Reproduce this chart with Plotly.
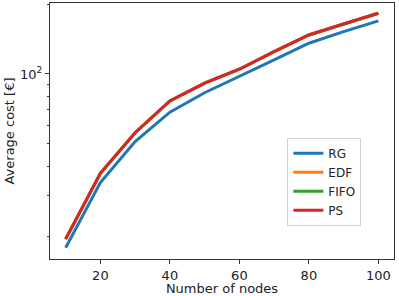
import plotly.graph_objects as go

nodes = [10, 20, 30, 40, 50, 60, 70, 80, 90, 100]
rg = [17.8, 34.0, 51.1, 68.4, 83.0, 97.3, 114.9, 135.7, 152.2, 169.3]
edf = [19.4, 37.3, 55.8, 76.5, 91.2, 104.8, 124.8, 147.2, 164.3, 182.8]
fifo = [19.4, 37.3, 55.8, 76.5, 91.2, 104.8, 124.8, 147.2, 164.3, 182.8]
ps = [19.4, 37.3, 55.8, 76.5, 91.2, 104.8, 124.8, 147.2, 164.3, 182.8]

series = [("RG", rg, "#1f77b4"), ("EDF", edf, "#ff7f0e"),
          ("FIFO", fifo, "#2ca02c"), ("PS", ps, "#d62728")]

fig = go.Figure()
for name, vals, col in series:
    fig.add_trace(go.Scatter(x=nodes, y=vals, mode="lines", name=name,
                             line=dict(color=col, width=3)))

fig.update_layout(
    width=399, height=296,
    margin=dict(l=50, r=5, t=3, b=37, autoexpand=False),
    plot_bgcolor="white", paper_bgcolor="white",
    font=dict(family="DejaVu Sans", size=13, color="#222"),
    legend=dict(x=0.69, y=0.13, xanchor="left", yanchor="bottom",
                bordercolor="#d0d0d0", borderwidth=1, bgcolor="white",
                font=dict(size=12), itemwidth=30, tracegroupgap=0),
)
fig.update_xaxes(range=[5.5, 104.5], tickvals=[20, 40, 60, 80, 100],
                 showline=True, linecolor="#333", linewidth=1, mirror=True,
                 ticks="outside", ticklen=4, tickcolor="#333", showgrid=False,
                 zeroline=False, automargin=False,
                 tickfont=dict(size=13),
                 title=dict(text="Number of nodes", standoff=2, font=dict(size=13)))
fig.update_yaxes(type="log", range=[1.202, 2.306], tickvals=[100],
                 ticktext=["10<sup>2</sup>"],
                 showline=True, linecolor="#333", linewidth=1, mirror=True,
                 ticks="outside", ticklen=4, tickcolor="#333", showgrid=False,
                 zeroline=False, automargin=False,
                 tickfont=dict(size=13),
                 minor=dict(tickvals=[20, 30, 40, 50, 60, 70, 80, 90, 200],
                            ticks="outside", ticklen=2, tickcolor="#333"),
                 title=dict(text="Average cost [€]", standoff=2, font=dict(size=13)))

fig.write_html("out.html", config={"displayModeBar": False},
               post_script="document.body.style.margin='0';document.body.style.padding='0';")
